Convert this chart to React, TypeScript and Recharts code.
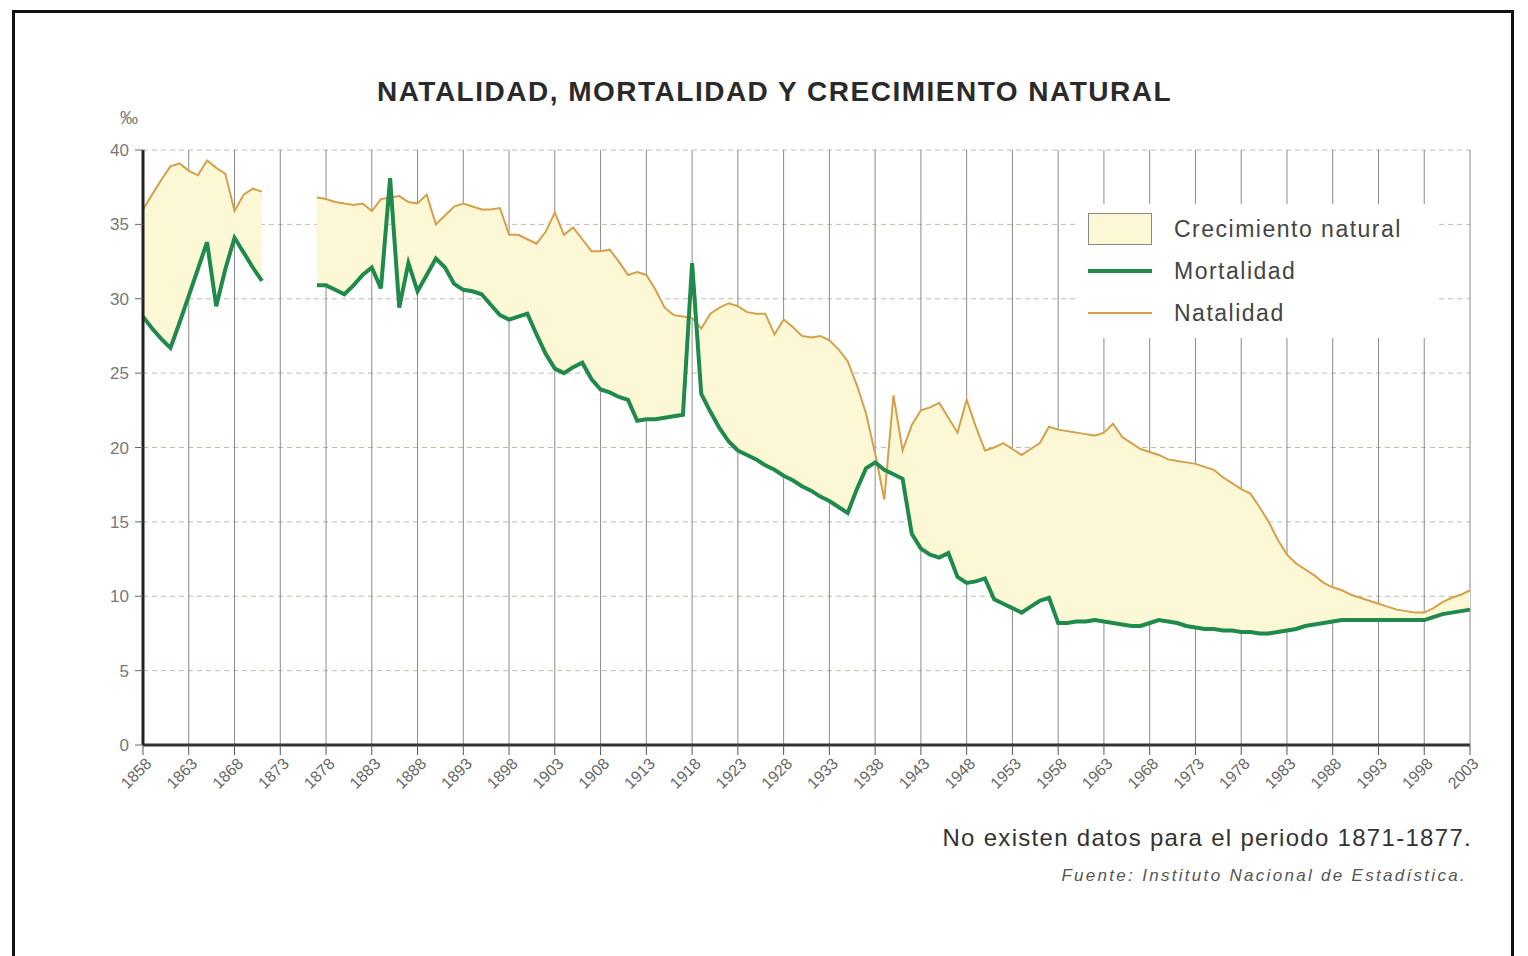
import { ComposedChart, Line, Area, XAxis, YAxis, CartesianGrid } from 'recharts'

const firstYear = 1858

// ‰, one value per year 1858–2003 (no data 1872–1876)
const natalidad = [
  36.0, 37.0, 38.0, 38.9, 39.1, 38.6, 38.3, 39.3, 38.8, 38.4, 35.9, 37.0, 37.4, 37.2,
  null, null, null, null, null,
  36.8, 36.7, 36.5, 36.4, 36.3, 36.4, 35.9, 36.7, 36.8, 36.9,
  36.5, 36.4, 37.0, 35.0, 35.6, 36.2, 36.4, 36.2, 36.0, 36.0,
  36.1, 34.3, 34.3, 34.0, 33.7, 34.5, 35.8, 34.3, 34.8, 34.0,
  33.2, 33.2, 33.3, 32.5, 31.6, 31.8, 31.6, 30.6, 29.4, 28.9,
  28.8, 28.7, 28.0, 29.0, 29.4, 29.7, 29.5, 29.1, 29.0, 29.0,
  27.6, 28.6, 28.1, 27.5, 27.4, 27.5, 27.2, 26.6, 25.8, 24.2,
  22.3, 19.6, 16.5, 23.5, 19.8, 21.5, 22.5, 22.7, 23.0, 22.0,
  21.0, 23.2, 21.4, 19.8, 20.0, 20.3, 19.9, 19.5, 19.9, 20.3,
  21.4, 21.2, 21.1, 21.0, 20.9, 20.8, 21.0, 21.6, 20.7, 20.3,
  19.9, 19.7, 19.5, 19.2, 19.1, 19.0, 18.9, 18.7, 18.5, 18.0,
  17.6, 17.2, 16.9, 16.0, 15.0, 13.8, 12.8, 12.2, 11.8, 11.4,
  10.9, 10.6, 10.4, 10.1, 9.9, 9.7, 9.5, 9.3, 9.1, 9.0,
  8.9, 8.9, 9.2, 9.6, 9.9, 10.1, 10.4,
]

const mortalidad = [
  28.8, 28.0, 27.3, 26.7, 28.4, 30.2, 32.0, 33.8, 29.5, 32.0, 34.1, 33.1, 32.1, 31.2,
  null, null, null, null, null,
  30.9, 30.9, 30.6, 30.3, 30.9, 31.6, 32.1, 30.7, 38.1, 29.4,
  32.4, 30.5, 31.6, 32.7, 32.1, 31.0, 30.6, 30.5, 30.3, 29.6,
  28.9, 28.6, 28.8, 29.0, 27.6, 26.3, 25.3, 25.0, 25.4, 25.7,
  24.6, 23.9, 23.7, 23.4, 23.2, 21.8, 21.9, 21.9, 22.0, 22.1,
  22.2, 32.4, 23.6, 22.4, 21.3, 20.4, 19.8, 19.5, 19.2, 18.8,
  18.5, 18.1, 17.8, 17.4, 17.1, 16.7, 16.4, 16.0, 15.6, 17.2,
  18.6, 19.0, 18.5, 18.2, 17.9, 14.2, 13.2, 12.8, 12.6, 12.9,
  11.3, 10.9, 11.0, 11.2, 9.8, 9.5, 9.2, 8.9, 9.3, 9.7,
  9.9, 8.2, 8.2, 8.3, 8.3, 8.4, 8.3, 8.2, 8.1, 8.0,
  8.0, 8.2, 8.4, 8.3, 8.2, 8.0, 7.9, 7.8, 7.8, 7.7,
  7.7, 7.6, 7.6, 7.5, 7.5, 7.6, 7.7, 7.8, 8.0, 8.1,
  8.2, 8.3, 8.4, 8.4, 8.4, 8.4, 8.4, 8.4, 8.4, 8.4,
  8.4, 8.4, 8.6, 8.8, 8.9, 9.0, 9.1,
]

const xTicks = [
  1858, 1863, 1868, 1873, 1878, 1883, 1888, 1893, 1898, 1903, 1908, 1913, 1918, 1923, 1928,
  1933, 1938, 1943, 1948, 1953, 1958, 1963, 1968, 1973, 1978, 1983, 1988, 1993, 1998, 2003,
]
const yTicks = [0, 5, 10, 15, 20, 25, 30, 35, 40]

const data = natalidad.map((n, i) => {
  const m = mortalidad[i]
  return {
    year: firstYear + i,
    natalidad: n,
    mortalidad: m,
    crecimiento: n == null || m == null ? null : [m, n],
  }
})

const FONT = '"Liberation Sans", Arial, sans-serif'
const GREEN = '#1f8a4c'
const ORANGE = '#d4a04a'
const FILL = '#fcf8d6'

function YearTick({ x, y, payload }: any) {
  return (
    <g transform={`translate(${x + 4},${y + 2})`}>
      <text
        textAnchor="end"
        transform="rotate(-45)"
        fontSize={16}
        fill="#666"
        fontFamily={FONT}
        dy={8}
      >
        {payload.value}
      </text>
    </g>
  )
}

function LegendBox() {
  const row = { display: 'flex', alignItems: 'center', height: 42 } as const
  const label = { marginLeft: 22, fontSize: 23, color: '#444', letterSpacing: 1.5 }
  return (
    <div
      style={{
        position: 'absolute',
        left: 1078,
        top: 204,
        width: 340,
        background: '#fff',
        padding: '4px 10px',
        fontFamily: FONT,
      }}
    >
      <div style={row}>
        <div style={{ width: 62, height: 30, background: FILL, border: '1px solid #888' }} />
        <span style={label}>Crecimiento natural</span>
      </div>
      <div style={row}>
        <div style={{ width: 64, height: 4, background: GREEN }} />
        <span style={label}>Mortalidad</span>
      </div>
      <div style={row}>
        <div style={{ width: 64, height: 2, background: ORANGE }} />
        <span style={label}>Natalidad</span>
      </div>
    </div>
  )
}

export default function App() {
  return (
    <div style={{ position: 'absolute', left: 0, top: 0, width: 1528, height: 956, background: '#fff', overflow: 'hidden' }}>
      <div
        style={{
          position: 'absolute',
          left: 12,
          top: 10,
          width: 1496,
          height: 960,
          border: '3px solid #111',
        }}
      />
      <ComposedChart
        width={1528}
        height={956}
        data={data}
        margin={{ top: 150, right: 58, bottom: 151, left: 103 }}
        style={{ position: 'absolute', left: 0, top: 0 }}
      >
        <CartesianGrid vertical={false} stroke="#c4bba6" strokeDasharray="5 4" />
        <CartesianGrid horizontal={false} stroke="#8a8a8a" />
        <XAxis
          dataKey="year"
          type="number"
          domain={[1858, 2003]}
          ticks={xTicks}
          interval={0}
          height={60}
          tick={<YearTick />}
          tickSize={10}
          stroke="#333"
          strokeWidth={3}
          tickLine={{ stroke: '#555', strokeWidth: 1 }}
        />
        <YAxis
          type="number"
          domain={[0, 40]}
          ticks={yTicks}
          width={40}
          tickSize={8}
          tickMargin={6}
          stroke="#222"
          strokeWidth={3}
          tickLine={{ stroke: '#666', strokeWidth: 1 }}
          tick={{ fontSize: 17, fill: '#777', fontFamily: FONT }}
        />
        <Area
          dataKey="crecimiento"
          stroke="none"
          fill={FILL}
          fillOpacity={1}
          isAnimationActive={false}
          legendType="none"
        />
        <Line
          dataKey="natalidad"
          stroke={ORANGE}
          strokeWidth={2}
          dot={false}
          isAnimationActive={false}
        />
        <Line
          dataKey="mortalidad"
          stroke={GREEN}
          strokeWidth={4}
          dot={false}
          isAnimationActive={false}
        />
      </ComposedChart>
      <LegendBox />
      <div
        style={{
          position: 'absolute',
          left: 377,
          top: 78,
          fontFamily: FONT,
          fontWeight: 'bold',
          fontSize: 28,
          letterSpacing: 1.5,
          lineHeight: 1,
          color: '#2a2a2a',
          whiteSpace: 'nowrap',
        }}
      >
        NATALIDAD, MORTALIDAD Y CRECIMIENTO NATURAL
      </div>
      <div style={{ position: 'absolute', left: 120, top: 108, fontFamily: FONT, fontSize: 18, color: '#777' }}>‰</div>
      <div
        style={{
          position: 'absolute',
          right: 1528 - 1472,
          top: 824,
          fontFamily: FONT,
          fontSize: 24,
          letterSpacing: 1.3,
          color: '#333',
          whiteSpace: 'nowrap',
        }}
      >
        No existen datos para el periodo 1871-1877.
      </div>
      <div
        style={{
          position: 'absolute',
          right: 1528 - 1467,
          top: 866,
          fontFamily: FONT,
          fontSize: 17,
          fontStyle: 'italic',
          letterSpacing: 2.3,
          color: '#555',
          whiteSpace: 'nowrap',
        }}
      >
        Fuente: Instituto Nacional de Estadística.
      </div>
    </div>
  )
}
